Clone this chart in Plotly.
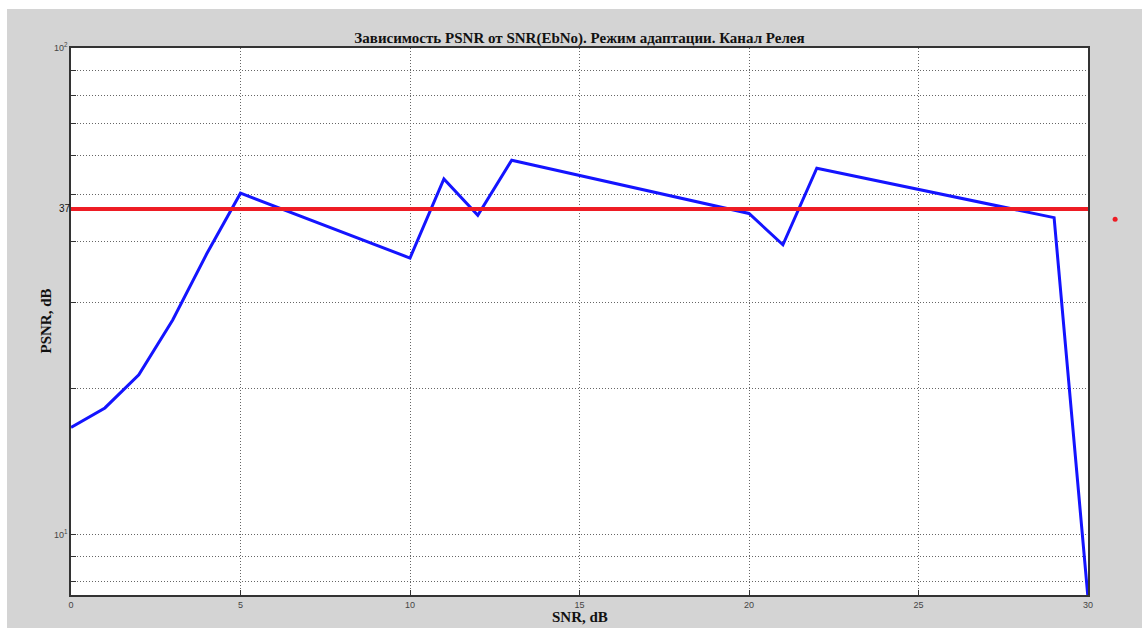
import plotly.graph_objects as go

# PSNR vs SNR (Eb/No), adaptive mode, Rayleigh channel
snr_db = [0, 1, 2, 3, 4, 5, 10, 11, 12, 13, 20, 21, 22, 29, 30]
psnr_db = [16.6, 18.2, 21.3, 27.6, 37.7, 50.3, 37.0, 53.8, 45.3, 58.8,
           45.7, 39.4, 56.6, 44.8, 7.4]

# Threshold level shown on the overlay axis
threshold = 37
threshold_x = [0, 30]
marker_x = 30.8
marker_y = 36.0

# Log-axis ticks: only the decades are labelled
y_ticks = [8, 9, 10, 20, 30, 40, 50, 60, 70, 80, 90, 100]
y_ticktext = ["", "", "10<sup>1</sup>", "", "", "", "", "", "", "", "", "10<sup>2</sup>"]
x_ticks = [0, 5, 10, 15, 20, 25, 30]
x_range = [0, 30]

W, H = 1142, 628
L, R, T, B = 71, 54, 48, 33
PW, PH = W - L - R, H - T - B

fig = go.Figure()

fig.add_trace(go.Scatter(
    x=snr_db, y=psnr_db, mode="lines",
    line=dict(color="#1414ff", width=3),
    showlegend=False, hoverinfo="skip",
))

fig.add_trace(go.Scatter(
    x=threshold_x, y=[threshold, threshold], mode="lines",
    line=dict(color="#ee1c24", width=4),
    yaxis="y2", showlegend=False, hoverinfo="skip",
))

tick_font = dict(family="Liberation Sans, Arial, sans-serif", size=9, color="#444444")
label_font = dict(family="Liberation Serif, Times New Roman, serif", size=15, color="#111111")
grid_dash = "1px,2px"

fig.update_layout(
    width=W, height=H,
    margin=dict(l=L, r=R, t=T, b=B, autoexpand=False),
    paper_bgcolor="#d4d4d4",
    plot_bgcolor="white",
    title=dict(
        text="<b>Зависимость PSNR от SNR(EbNo). Режим адаптации. Канал Релея</b>",
        font=dict(family="Liberation Serif, Times New Roman, serif", size=15, color="#111111"),
        x=0.5, xanchor="center", xref="paper",
        y=1, yanchor="bottom", yref="paper", pad=dict(b=5),
    ),
    xaxis=dict(
        range=x_range, tickvals=x_ticks, ticktext=[str(v) for v in x_ticks],
        showgrid=True, gridcolor="#666666", griddash=grid_dash, gridwidth=1,
        showline=True, linecolor="#333333", linewidth=1.5, mirror=True,
        ticks="inside", ticklen=5, tickcolor="#333333",
        tickfont=tick_font, zeroline=False, automargin=False,
    ),
    yaxis=dict(
        type="log", range=[0.8755, 2],
        tickvals=y_ticks, ticktext=y_ticktext,
        showgrid=True, gridcolor="#666666", griddash=grid_dash, gridwidth=1,
        showline=True, linecolor="#333333", linewidth=1.5, mirror=True,
        ticks="inside", ticklen=5, tickcolor="#333333",
        tickfont=tick_font, zeroline=False, automargin=False,
    ),
    yaxis2=dict(
        overlaying="y", side="left", range=[0, 52.42],
        tickvals=[threshold], ticktext=[str(threshold)],
        showgrid=False, zeroline=False, showline=False, ticks="",
        automargin=False,
        tickfont=dict(family="Liberation Sans, Arial, sans-serif", size=10, color="#111111"),
    ),
    annotations=[
        dict(text="<b>SNR, dB</b>", font=label_font, showarrow=False,
             xref="paper", yref="paper", x=0.5, xanchor="center",
             y=-(617 - (H - B)) / PH, yanchor="middle"),
        dict(text="<b>PSNR, dB</b>", font=label_font, showarrow=False, textangle=-90,
             xref="paper", yref="paper", x=(45 - L) / PW, xanchor="center",
             y=0.5, yanchor="middle"),
    ],
    shapes=[
        # white strips along the top and left edges of the figure
        dict(type="rect", xref="paper", yref="paper",
             x0=(0 - L) / PW, x1=(W - L) / PW,
             y0=(H - B - 9) / PH, y1=(H - B) / PH,
             fillcolor="white", line=dict(width=0), layer="above"),
        dict(type="rect", xref="paper", yref="paper",
             x0=(0 - L) / PW, x1=(7 - L) / PW,
             y0=(0 - B) / PH, y1=(H - B) / PH,
             fillcolor="white", line=dict(width=0), layer="above"),
        # red marker beside the right edge of the axes
        dict(type="circle", xref="paper", yref="y2",
             xsizemode="pixel", ysizemode="pixel",
             xanchor=(marker_x - x_range[0]) / (x_range[1] - x_range[0]),
             yanchor=marker_y, x0=-2.5, x1=2.5, y0=-2.5, y1=2.5,
             fillcolor="#ee1c24", line=dict(width=0), layer="above"),
    ],
)

fig.write_html("out.html")
